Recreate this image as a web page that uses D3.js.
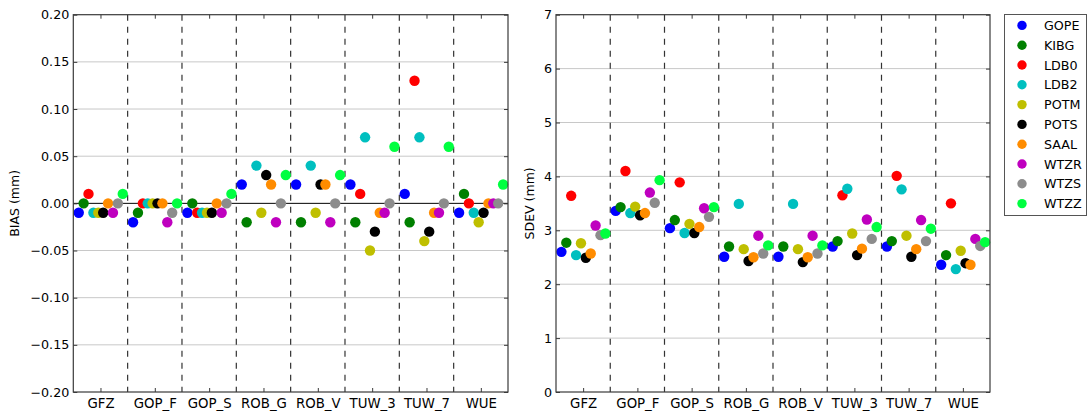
<!DOCTYPE html>
<html>
<head>
<meta charset="utf-8">
<script src="https://cdn.jsdelivr.net/npm/d3@7"></script>
<style>
  html, body { margin: 0; padding: 0; background: #fff; }
  svg { display: block; font-family: "DejaVu Sans", sans-serif; }
</style>
</head>
<body>
<svg id="chart" width="1088" height="417"></svg>
<script>
// Solution categories along the x axis
const categories = ["GFZ", "GOP_F", "GOP_S", "ROB_G", "ROB_V", "TUW_3", "TUW_7", "WUE"];

// GNSS stations (one marker per station in each category)
const stations = ["GOPE", "KIBG", "LDB0", "LDB2", "POTM", "POTS", "SAAL", "WTZR", "WTZS", "WTZZ"];
const stationColors = ["#0000ff", "#008000", "#ff0000", "#00bfbf", "#bfbf00",
                       "#000000", "#ff8c00", "#bf00bf", "#8c8c8c", "#00ff40"];

// BIAS (mm) per station, ordered as categories; null = no solution
const biasGOPE = [-0.01, -0.02, -0.01,  0.02,  0.02,  0.02,  0.01, -0.01];
const biasKIBG = [ 0.00, -0.01,  0.00, -0.02, -0.02, -0.02, -0.02,  0.01];
const biasLDB0 = [ 0.01,  0.00, -0.01,  null,  null,  0.01,  0.13,  0.00];
const biasLDB2 = [-0.01,  0.00, -0.01,  0.04,  0.04,  0.07,  0.07, -0.01];
const biasPOTM = [-0.01,  0.00, -0.01, -0.01, -0.01, -0.05, -0.04, -0.02];
const biasPOTS = [-0.01,  0.00, -0.01,  0.03,  0.02, -0.03, -0.03, -0.01];
const biasSAAL = [ 0.00,  0.00,  0.00,  0.02,  0.02, -0.01, -0.01,  0.00];
const biasWTZR = [-0.01, -0.02, -0.01, -0.02, -0.02, -0.01, -0.01,  0.00];
const biasWTZS = [ 0.00, -0.01,  0.00,  0.00,  0.00,  0.00,  0.00,  0.00];
const biasWTZZ = [ 0.01,  0.00,  0.01,  0.03,  0.03,  0.06,  0.06,  0.02];

// SDEV (mm) per station, ordered as categories; null = no solution
const sdevGOPE = [2.60, 3.36, 3.04, 2.51, 2.51, 2.70, 2.70, 2.36];
const sdevKIBG = [2.77, 3.43, 3.19, 2.70, 2.70, 2.80, 2.80, 2.54];
const sdevLDB0 = [3.64, 4.10, 3.89, null, null, 3.65, 4.01, 3.50];
const sdevLDB2 = [2.54, 3.32, 2.95, 3.49, 3.49, 3.77, 3.76, 2.28];
const sdevPOTM = [2.76, 3.44, 3.12, 2.65, 2.65, 2.94, 2.90, 2.62];
const sdevPOTS = [2.49, 3.28, 2.95, 2.43, 2.41, 2.54, 2.51, 2.39];
const sdevSAAL = [2.57, 3.32, 3.06, 2.50, 2.50, 2.66, 2.65, 2.36];
const sdevWTZR = [3.09, 3.70, 3.41, 2.90, 2.90, 3.20, 3.19, 2.84];
const sdevWTZS = [2.91, 3.51, 3.25, 2.57, 2.57, 2.84, 2.80, 2.71];
const sdevWTZZ = [2.94, 3.93, 3.43, 2.72, 2.72, 3.06, 3.03, 2.78];

const biasSeries = [biasGOPE, biasKIBG, biasLDB0, biasLDB2, biasPOTM,
                    biasPOTS, biasSAAL, biasWTZR, biasWTZS, biasWTZZ];
const sdevSeries = [sdevGOPE, sdevKIBG, sdevLDB0, sdevLDB2, sdevPOTM,
                    sdevPOTS, sdevSAAL, sdevWTZR, sdevWTZS, sdevWTZZ];

// Tick values
const biasTicks = [-0.20, -0.15, -0.10, -0.05, 0.00, 0.05, 0.10, 0.15, 0.20];
const sdevTicks = [0, 1, 2, 3, 4, 5, 6, 7];

const svg = d3.select("#chart");
const plotTop = 14.7, plotBottom = 392;
const spine = "#3a3a3a";

function panel(opts) {
  const g = svg.append("g");
  const x = d3.scaleLinear().domain([0, categories.length]).range([opts.left, opts.right]);
  const y = d3.scaleLinear().domain(opts.domain).range([plotBottom, plotTop]);

  // horizontal grid
  g.append("g").selectAll("line")
    .data(opts.ticks.filter(t => t !== opts.domain[0] && t !== opts.domain[1] && !(opts.zeroLine && t === 0)))
    .join("line")
    .attr("x1", opts.left).attr("x2", opts.right)
    .attr("y1", d => y(d)).attr("y2", d => y(d))
    .attr("stroke", "#c8c8c8").attr("stroke-width", 1);

  // group separators
  g.append("g").selectAll("line")
    .data(d3.range(1, categories.length))
    .join("line")
    .attr("x1", d => x(d)).attr("x2", d => x(d))
    .attr("y1", plotTop).attr("y2", plotBottom)
    .attr("stroke", "#333").attr("stroke-width", 1.2)
    .attr("stroke-dasharray", "6,6");

  if (opts.zeroLine) {
    g.append("line")
      .attr("x1", opts.left).attr("x2", opts.right)
      .attr("y1", y(0)).attr("y2", y(0))
      .attr("stroke", "#000").attr("stroke-width", 1);
  }

  // markers: one series per station, drawn in station order
  opts.series.forEach((vals, si) => {
    g.append("g").selectAll("circle")
      .data(vals.map((v, ci) => ({ v, ci })).filter(d => d.v !== null))
      .join("circle")
      .attr("cx", d => x(d.ci + 0.1 + 0.09 * si))
      .attr("cy", d => y(d.v))
      .attr("r", 5.2)
      .attr("fill", stationColors[si]);
  });

  // axes with inward ticks
  const yl = d3.axisLeft(y).tickValues(opts.ticks).tickFormat(opts.fmt).tickSizeInner(-4).tickSizeOuter(0).tickPadding(4);
  const yr = d3.axisRight(y).tickValues(opts.ticks).tickFormat("").tickSizeInner(-4).tickSizeOuter(0);
  const xb = d3.axisBottom(x).tickValues(categories.map((c, i) => i + 0.5))
    .tickFormat((d, i) => categories[i]).tickSizeInner(-4).tickSizeOuter(0).tickPadding(6.5);
  const xt = d3.axisTop(x).tickValues(categories.map((c, i) => i + 0.5))
    .tickFormat("").tickSizeInner(-4).tickSizeOuter(0);

  const axes = [
    g.append("g").attr("transform", `translate(${opts.left},0)`).call(yl),
    g.append("g").attr("transform", `translate(${opts.right},0)`).call(yr),
    g.append("g").attr("transform", `translate(0,${plotBottom})`).call(xb),
    g.append("g").attr("transform", `translate(0,${plotTop})`).call(xt)
  ];
  axes.forEach(a => {
    a.select(".domain").remove();
    a.selectAll(".tick line").attr("stroke", spine);
    a.selectAll("text").attr("fill", "#000").style("font-size", "12.7px").style("font-family", "DejaVu Sans");
  });
  axes[2].selectAll("text").style("font-size", "13.3px");

  // frame
  g.append("rect")
    .attr("x", opts.left).attr("y", plotTop)
    .attr("width", opts.right - opts.left).attr("height", plotBottom - plotTop)
    .attr("fill", "none").attr("stroke", spine).attr("stroke-width", 1.2);

  // y-axis title
  g.append("text")
    .attr("transform", `translate(${opts.titleX},${(plotTop + plotBottom) / 2}) rotate(-90)`)
    .attr("text-anchor", "middle")
    .style("font-size", "12.5px")
    .text(opts.title);
}

panel({
  left: 73.3, right: 508, domain: [-0.2, 0.2], ticks: biasTicks,
  fmt: d3.format(".2f"), series: biasSeries, zeroLine: true,
  title: "BIAS (mm)", titleX: 19
});

panel({
  left: 556, right: 990, domain: [0, 7], ticks: sdevTicks,
  fmt: d3.format("d"), series: sdevSeries, zeroLine: false,
  title: "SDEV (mm)", titleX: 534
});

// legend
const legend = svg.append("g");
legend.append("rect")
  .attr("x", 1004.5).attr("y", 14.5).attr("width", 82).attr("height", 201)
  .attr("fill", "#fff").attr("stroke", "#555").attr("stroke-width", 1);
const rows = legend.selectAll("g.row").data(stations).join("g")
  .attr("transform", (d, i) => `translate(0,${25.4 + i * 19.8})`);
rows.append("circle").attr("cx", 1022).attr("cy", 0).attr("r", 4.7)
  .attr("fill", (d, i) => stationColors[i]);
rows.append("text").attr("x", 1044).attr("y", 0).attr("dy", "0.36em")
  .style("font-size", "12.7px").text(d => d);
</script>
</body>
</html>
